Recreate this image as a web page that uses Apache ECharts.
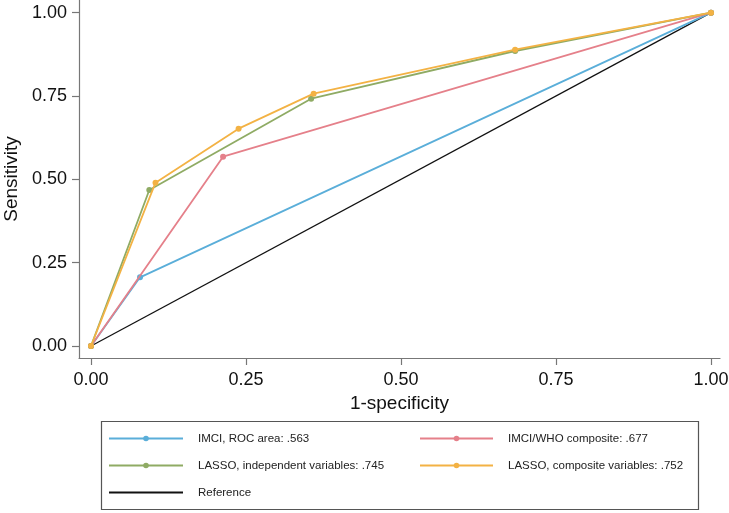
<!DOCTYPE html>
<html>
<head>
<meta charset="utf-8">
<script src="https://cdn.jsdelivr.net/npm/echarts@6/dist/echarts.min.js"></script>
<style>
  html, body { margin: 0; padding: 0; background: #fff; }
  #rocChart { width: 729px; height: 513px; }
</style>
</head>
<body>
<div id="rocChart"></div>
<script>
// 各模型的ROC曲线点 [1-specificity, sensitivity]
const imciPts = [[0, 0], [0.079, 0.206], [1, 1]];
const whoPts = [[0, 0], [0.213, 0.568], [1, 1]];
const lassoIndepPts = [[0, 0], [0.094, 0.468], [0.355, 0.742], [0.684, 0.885], [1, 1]];
const lassoCompPts = [[0, 0], [0.104, 0.490], [0.238, 0.652], [0.359, 0.757], [0.684, 0.889], [1, 1]];
const refPts = [[0, 0], [1, 1]];
const tickVals = [0, 0.25, 0.5, 0.75, 1];
const names = [
    'IMCI, ROC area: .563',
    'IMCI/WHO composite: .677',
    'LASSO, independent variables: .745',
    'LASSO, composite variables: .752',
    'Reference'
];
const colors = ['#5aaed9', '#e5808a', '#8fab64', '#f3b244', '#111111'];

const FONT = '"Liberation Sans", Arial, sans-serif';

let rocChart = echarts.init(document.getElementById('rocChart'));

//生成折线
let makeLine = (idx, pts, showSym, width, z) => ({
    name: names[idx],
    type: 'line',
    data: pts,
    z: z,
    symbol: showSym ? 'circle' : 'none',
    symbolSize: 6,
    showSymbol: showSym,
    itemStyle: { color: colors[idx] },
    lineStyle: { color: colors[idx], width: width },
    emphasis: { disabled: true },
    animation: false
});

let axisCommon = {
    type: 'value',
    nameLocation: 'middle',
    nameTextStyle: { fontSize: 19, color: '#111', fontFamily: FONT },
    splitLine: { show: false },
    axisLine: { show: true, onZero: false, lineStyle: { color: '#777', width: 1.2 } },
    axisTick: { show: true, length: 7, customValues: tickVals, lineStyle: { color: '#777', width: 1.2 } },
    axisLabel: {
        customValues: tickVals,
        fontSize: 18,
        color: '#111',
        fontFamily: FONT,
        formatter: v => v.toFixed(2)
    }
};

let legendText = { fontSize: 11.5, color: '#222', fontFamily: FONT, padding: [0, 0, 0, 10], lineHeight: 13 };

let setChart = {
    backgroundColor: '#fff',
    animation: false,
    grid: { left: 79, top: 0, right: 9, bottom: 155, containLabel: false, outerBoundsMode: 'none' },
    xAxis: Object.assign({}, axisCommon, {
        min: -0.0194,
        max: 1.0145,
        name: '1-specificity',
        nameGap: 25,
        axisLabel: Object.assign({}, axisCommon.axisLabel, { margin: 13 })
    }),
    yAxis: Object.assign({}, axisCommon, {
        min: -0.036,
        max: 1.038,
        name: 'Sensitivity',
        nameGap: 58,
        nameRotate: 90,
        axisLabel: Object.assign({}, axisCommon.axisLabel, { margin: 12 })
    }),
    legend: [
        {
            orient: 'vertical',
            left: 108,
            top: 432,
            padding: 0,
            itemWidth: 74,
            itemHeight: 7,
            itemGap: 14,
            textStyle: legendText,
            data: [names[0], names[2], { name: names[4], itemStyle: { opacity: 0 } }],
            selectedMode: false
        },
        {
            orient: 'vertical',
            left: 419,
            top: 432,
            padding: 0,
            itemWidth: 73,
            itemHeight: 7,
            itemGap: 14,
            textStyle: legendText,
            data: [names[1], names[3]],
            selectedMode: false
        }
    ],
    graphic: [{
        type: 'rect',
        shape: { x: 101.5, y: 421.5, width: 597, height: 88 },
        style: { fill: 'none', stroke: '#555', lineWidth: 1.2 },
        silent: true
    }],
    series: [
        makeLine(4, refPts, false, 1.3, 1),
        makeLine(0, imciPts, true, 1.8, 2),
        makeLine(1, whoPts, true, 1.8, 3),
        makeLine(2, lassoIndepPts, true, 1.8, 4),
        makeLine(3, lassoCompPts, true, 1.8, 5)
    ]
};

rocChart.setOption(setChart);
</script>
</body>
</html>
